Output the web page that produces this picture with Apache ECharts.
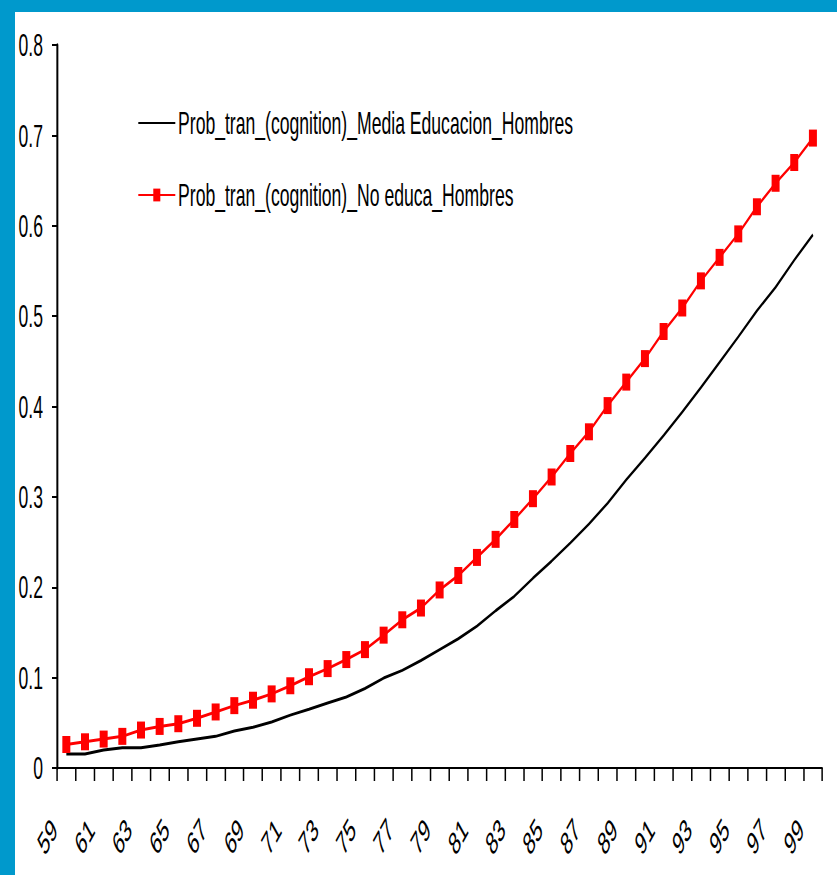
<!DOCTYPE html>
<html>
<head>
<meta charset="utf-8">
<script src="https://cdn.jsdelivr.net/npm/echarts@6/dist/echarts.min.js"></script>
<style>
  html, body { margin: 0; padding: 0; background: #0099cc; overflow: hidden; }
  #wrap { position: absolute; left: 15px; top: 12px; width: 822px; height: 863px; background: #fff; overflow: hidden; }
  #chart { height: 863px; transform-origin: 0 0; }
</style>
</head>
<body>
<div id="wrap"><div id="chart"></div></div>
<script>
// edades 59..99
var ages = [];
for (var a = 59; a <= 99; a++) ages.push(String(a));

var mediaEducacion = [0.0155, 0.0155, 0.020, 0.0225, 0.0225, 0.0255, 0.029, 0.032, 0.035, 0.041,
  0.045, 0.051, 0.0585, 0.065, 0.072, 0.0785, 0.088, 0.0995, 0.108, 0.119,
  0.131, 0.143, 0.157, 0.174, 0.190, 0.210, 0.229, 0.249, 0.270, 0.293,
  0.319, 0.343, 0.368, 0.394, 0.421, 0.449, 0.477, 0.506, 0.532, 0.562, 0.590];

var noEduca = [0.026, 0.029, 0.032, 0.035, 0.042, 0.046, 0.049, 0.055, 0.062, 0.069,
  0.075, 0.082, 0.091, 0.101, 0.110, 0.120, 0.131, 0.147, 0.164, 0.177,
  0.197, 0.213, 0.233, 0.253, 0.275, 0.298, 0.322, 0.348, 0.372, 0.401,
  0.427, 0.453, 0.483, 0.509, 0.539, 0.565, 0.591, 0.621, 0.647, 0.670, 0.697];

var seriesNames = ['Prob_tran_(cognition)_Media Educacion_Hombres', 'Prob_tran_(cognition)_No educa_Hombres'];

// the original picture is squeezed horizontally (narrow, tall text); do the same
var sx = 0.55;
function u(px) { return px / sx; }

var el = document.getElementById('chart');
el.style.width = u(822) + 'px';
el.style.transform = 'scaleX(' + sx + ')';

var font = '"Liberation Sans", Arial, sans-serif';

var chart = echarts.init(el, null, { renderer: 'svg' });
chart.setOption({
  animation: false,
  backgroundColor: '#fff',
  textStyle: { fontFamily: font },
  grid: { left: u(42), right: u(15), top: 33, bottom: 107, outerBoundsMode: 'none' },
  legend: {
    orient: 'vertical',
    left: u(120),
    top: 90,
    itemGap: 40,
    itemWidth: u(37),
    itemHeight: 16,
    textStyle: { fontFamily: font, fontSize: 32, color: '#000' },
    data: [
      { name: seriesNames[0], itemStyle: { opacity: 0 } },
      { name: seriesNames[1] }
    ]
  },
  xAxis: {
    type: 'category',
    data: ages,
    boundaryGap: true,
    axisLine: { lineStyle: { color: '#000', width: 2 } },
    axisTick: { show: true, interval: 0, length: 13, lineStyle: { color: '#000', width: u(1.5) } },
    axisLabel: {
      interval: 1, rotate: 45, margin: 34,
      fontFamily: font, fontSize: 32, color: '#000',
      // trailing spacer pushes the tilted label left of its tick, as in the original
      formatter: function (v) { return v + '{s| }'; },
      rich: { s: { width: 31, fontSize: 32 } }
    },
    splitLine: { show: false }
  },
  yAxis: {
    type: 'value',
    min: 0,
    max: 0.8,
    interval: 0.1,
    axisLine: { show: true, lineStyle: { color: '#000', width: u(2) } },
    axisTick: { show: true, length: u(5), lineStyle: { color: '#000', width: 2 } },
    axisLabel: {
      margin: u(14), fontFamily: font, fontSize: 32, color: '#000',
      formatter: function (v) { return v === 0 ? '0' : v.toFixed(1); }
    },
    splitLine: { show: false }
  },
  series: [
    {
      name: seriesNames[0],
      type: 'line',
      data: mediaEducacion,
      symbol: 'none',
      lineStyle: { color: '#000', width: 3 },
      itemStyle: { color: '#000' }
    },
    {
      name: seriesNames[1],
      type: 'line',
      data: noEduca,
      symbol: 'rect',
      symbolSize: [u(8), 17],
      lineStyle: { color: '#ff0000', width: 3 },
      itemStyle: { color: '#ff0000' }
    }
  ]
});
</script>
</body>
</html>
